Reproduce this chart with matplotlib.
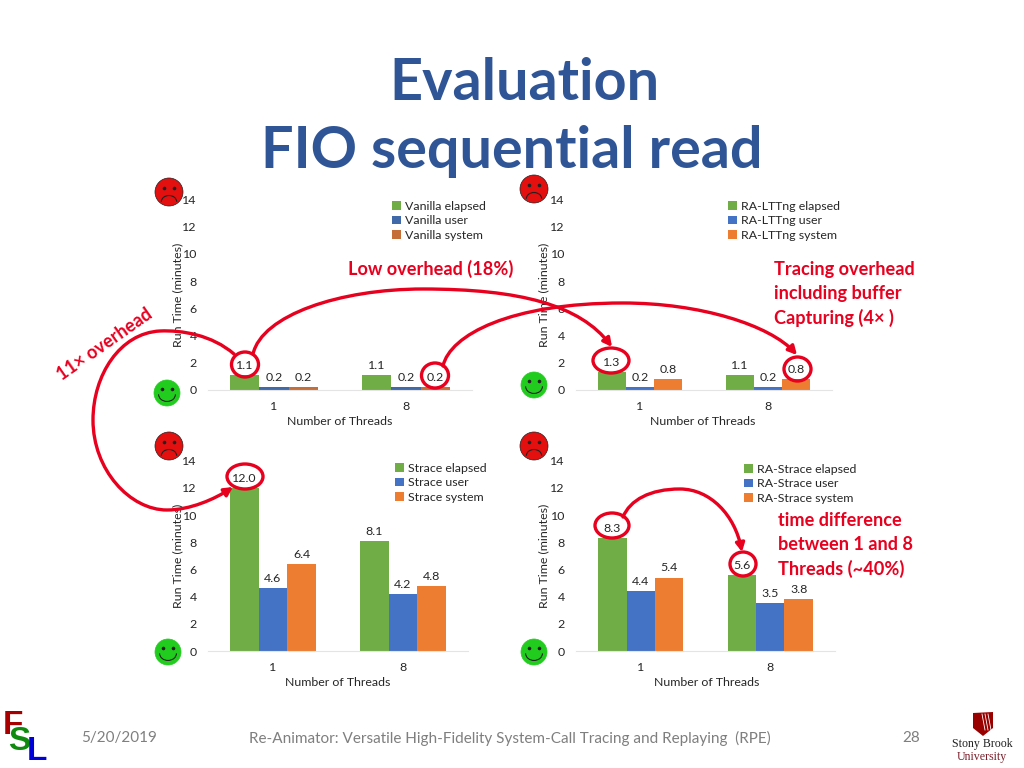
import numpy as np
import matplotlib
matplotlib.use('Agg')
import matplotlib.pyplot as plt
from matplotlib.patches import Circle, Ellipse, Arc, FancyArrowPatch, Polygon
from matplotlib.path import Path

plt.rcParams['font.family'] = ['Lato', 'DejaVu Sans']

threads = ['1', '8']

vanilla_elapsed = [1.1, 1.1]
vanilla_user = [0.2, 0.2]
vanilla_system = [0.2, 0.2]

lttng_elapsed = [1.3, 1.1]
lttng_user = [0.2, 0.2]
lttng_system = [0.8, 0.8]

strace_elapsed = [12.0, 8.1]
strace_user = [4.6, 4.2]
strace_system = [6.4, 4.8]

rastrace_elapsed = [8.3, 5.6]
rastrace_user = [4.4, 3.5]
rastrace_system = [5.4, 3.8]

W, H = 1024, 768
GREEN = '#70AD47'
BLUE = '#4472C4'
ORANGE = '#ED7D31'
RED = '#E8001F'
TXT = '#262626'
FS = 8.9

fig = plt.figure(figsize=(W / 100, H / 100), dpi=100)


def chart(left, right, y0, name, elapsed, user, system, leg, colors, lab_x, xlab_x):
    # positions are slide pixels, y axis top is the 14 tick
    y14 = y0 - 14 * 13.6
    ax = fig.add_axes([left / W, 1 - y0 / H, (right - left) / W, (y0 - y14) / H])
    x = np.arange(2)
    bw = 0.22
    for i, (vals, part) in enumerate(zip([elapsed, user, system], ['elapsed', 'user', 'system'])):
        b = ax.bar(x + (i - 1) * bw, vals, bw, color=colors[i], label=f'{name} {part}')
        ax.bar_label(b, fmt='%.1f', padding=3, fontsize=FS, color=TXT)
    ax.set_xlim(-0.5, 1.5)
    ax.set_ylim(0, 14)
    ax.set_yticks(range(0, 15, 2))
    ax.set_xticks(x, threads)
    ax.tick_params(length=0, labelsize=FS, labelcolor=TXT)
    ax.tick_params(axis='y', pad=8)
    ax.tick_params(axis='x', pad=8)
    for s in ['top', 'left', 'right']:
        ax.spines[s].set_visible(False)
    ax.spines['bottom'].set_color('#E4E4E4')
    ax.patch.set_alpha(0)
    ax.set_xlabel('Number of Threads', fontsize=FS, color=TXT)
    ax.set_ylabel('Run Time (minutes)', fontsize=FS, color=TXT)
    ax.xaxis.set_label_coords((xlab_x - left) / (right - left), -26 / (y0 - y14))
    ax.yaxis.set_label_coords((lab_x + 6 - left) / (right - left), 0.5)
    ax.legend(loc='upper left', frameon=False, fontsize=FS, labelcolor=TXT,
              bbox_to_anchor=(leg[0] / W, 1 - leg[1] / H), bbox_transform=fig.transFigure,
              handlelength=0.7, handleheight=0.7, handletextpad=0.35,
              labelspacing=0.28, borderpad=0, borderaxespad=0)
    return ax


chart(208, 472, 390, 'Vanilla', vanilla_elapsed, vanilla_user, vanilla_system,
      (392, 201), [GREEN, '#3F69A8', '#C66E38'], 177, 340)
chart(576, 832, 390, 'RA-LTTng', lttng_elapsed, lttng_user, lttng_system,
      (728, 201), [GREEN, BLUE, ORANGE], 543, 703)
chart(208, 468, 651, 'Strace', strace_elapsed, strace_user, strace_system,
      (395, 463), [GREEN, BLUE, ORANGE], 177, 338)
chart(576, 835, 651, 'RA-Strace', rastrace_elapsed, rastrace_user, rastrace_system,
      (744, 464), [GREEN, BLUE, ORANGE], 543, 707)

# overlay in slide pixels for everything that sits on top of the charts
ov = fig.add_axes([0, 0, 1, 1])
ov.set_xlim(0, W)
ov.set_ylim(H, 0)
ov.axis('off')
ov.patch.set_alpha(0)

ov.text(524, 83, 'Evaluation', fontsize=41.4, fontweight='bold', color='#2F5597', ha='center', va='center')
ov.text(512, 152, 'FIO sequential read', fontsize=41.4, fontweight='bold', color='#2F5597', ha='center', va='center')


def face(x, y, r, col, happy):
    ov.add_patch(Circle((x, y), r, fc=col, ec='#222222' if not happy else col, lw=0.5))
    ov.plot([x - r * 0.35, x + r * 0.35], [y - r * 0.3, y - r * 0.3], 'o', ms=1.6, color='#222222')
    if happy:
        ov.add_patch(Arc((x, y + r * 0.1), r * 1.3, r * 1.1, theta1=0, theta2=180, color='#222222', lw=0.8))
    else:
        ov.add_patch(Arc((x, y + r * 0.7), r * 1.1, r * 0.9, theta1=180, theta2=360, color='#222222', lw=0.8))


for fx, fy in [(169, 192), (534, 189), (169, 446), (534, 446)]:
    face(fx, fy, 14, '#E40F0F', False)
for fx, fy in [(167, 393), (534, 385), (168, 652), (534, 652)]:
    face(fx, fy, 13, '#22CC1E', True)

for cx, cy, cw, ch in [(245, 364.5, 27, 25), (435, 375.5, 27, 25), (611, 360.5, 36, 25),
                       (797.5, 369, 27, 24), (245, 476.5, 36, 25), (612, 525.5, 34, 25),
                       (743, 564, 26, 24)]:
    ov.add_patch(Ellipse((cx, cy), cw, ch, fc='none', ec=RED, lw=2.4))

M, C = Path.MOVETO, Path.CURVE4
arcs = [
    [(234, 354), (212, 335), (182, 330), (160, 331), (120, 333), (93, 375), (93, 420),
     (93, 470), (130, 510), (167, 510), (190, 510), (215, 499), (233, 487)],
    [(253, 354), (262, 315), (340, 289), (423, 289), (520, 289), (580, 305), (612, 347)],
    [(443, 366), (450, 335), (510, 303), (623, 303), (700, 303), (770, 325), (797, 355)],
    [(623, 517), (630, 500), (650, 489), (680, 489), (710, 489), (735, 515), (742, 552)],
]
for pts in arcs:
    codes = [M] + [C] * (len(pts) - 1)
    ov.add_patch(FancyArrowPatch(path=Path(pts, codes), arrowstyle='-|>,head_length=5,head_width=2.6',
                                 color=RED, lw=2.4, shrinkA=0, shrinkB=0))

ov.text(431, 269, 'Low overhead (18%)', fontsize=13.1, fontweight='bold', color=RED, ha='center', va='center')
ov.text(105, 344, '11× overhead', fontsize=13.1, fontweight='bold', color=RED, ha='center', va='center',
        rotation=35, rotation_mode='anchor')
for ty, s in zip([269, 294, 318], ['Tracing overhead', 'including buffer', 'Capturing (4× )']):
    ov.text(774, ty, s, fontsize=13.1, fontweight='bold', color=RED, va='center')
for ty, s in zip([521, 545, 569], ['time difference', 'between 1 and 8', 'Threads (~40%)']):
    ov.text(778, ty, s, fontsize=13.1, fontweight='bold', color=RED, va='center')

# footer
ov.text(81, 738, '5/20/2019', fontsize=11, color='#7F7F7F', va='center')
ov.text(510, 738, 'Re-Animator: Versatile High-Fidelity System-Call Tracing and Replaying  (RPE)',
        fontsize=11, color='#7F7F7F', ha='center', va='center')
ov.text(911, 738, '28', fontsize=11, color='#7F7F7F', ha='center', va='center')

# FSL logo
ov.text(13, 725, 'F', fontsize=24, fontweight='bold', family='Liberation Sans', color='#A80000', ha='center', va='center')
ov.text(19, 741, 'S', fontsize=24, fontweight='bold', family='Liberation Sans', color='#0F8A0F', ha='center', va='center')
ov.text(37, 751, 'L', fontsize=24, fontweight='bold', family='Liberation Sans', color='#0000D8', ha='center', va='center')

# Stony Brook logo
ov.add_patch(Polygon([(973, 713), (993, 712), (993, 728), (983, 736), (973, 728)], fc='#990000', ec='none'))
for sx in [984, 987, 990]:
    ov.plot([sx - 2, sx + 1], [714, 730], color='white', lw=0.6)
ov.text(982, 744, 'Stony Brook', fontsize=8.6, family='Liberation Serif', color='#222222', ha='center', va='center')
ov.text(982, 757, 'University', fontsize=8.6, family='Liberation Serif', color='#7A1F2B', ha='center', va='center')

fig.savefig('out.png', dpi=100)
